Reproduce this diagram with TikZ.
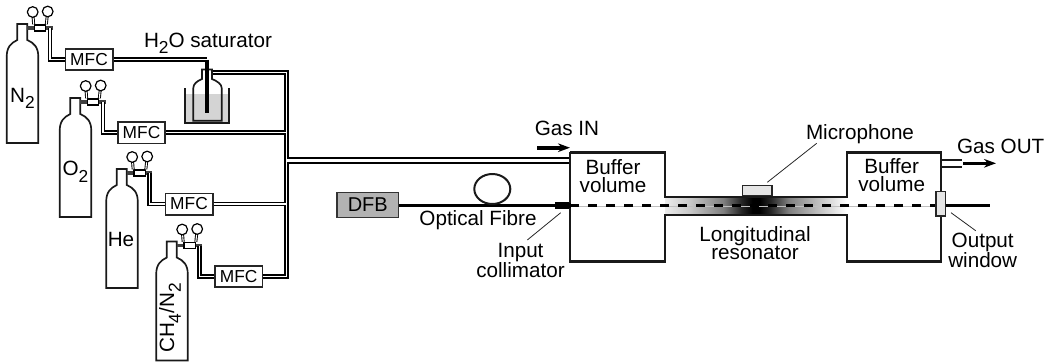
\documentclass[tikz,border=0pt]{standalone}
\usepackage{fontspec}
\setmainfont{Liberation Sans}
\usetikzlibrary{arrows.meta,calc}
\pgfdeclarehorizontalshading{resshade}{100bp}{color(0bp)=(white); color(25bp)=(white!92!black); color(32bp)=(black!22); color(41bp)=(black!50); color(46bp)=(black!85); color(49bp)=(black); color(51bp)=(black); color(54bp)=(black!85); color(59bp)=(black!50); color(68bp)=(black!22); color(75bp)=(white); color(100bp)=(white)}
\newcommand{\subtx}[1]{\raisebox{-.32em}{\fontsize{13}{13}\selectfont #1}}
\tikzset{
  lab/.style={font=\fontsize{15.5}{13.5}\selectfont,inner sep=0pt,anchor=base},
  labm/.style={font=\fontsize{15.5}{13.5}\selectfont,inner sep=0pt,align=center},
  mfcbox/.style={draw=black!85,line width=1.25pt,fill=white,inner sep=0pt,minimum width=35.5pt,minimum height=16pt,font=\fontsize{13}{13}\selectfont},
  thinl/.style={line width=1.25pt,draw=black!90},
  leader/.style={line width=.6pt,draw=black!85},
  pipeo/.style={line width=3.6pt,draw=black,line join=miter},
  pipei/.style={line width=1pt,draw=white,line join=miter},
  mainwall/.style={line width=1.9pt,draw=black!90,line join=miter},
  fibre/.style={line width=2.2pt,draw=black},
  gasarrow/.style={-{Stealth[length=9pt,width=6.5pt]},draw=black}
}
% cylinder with regulator and two gauges
\newcommand{\gascyl}[3]{%
\begin{scope}[shift={(#1,#2)}]
  \draw[thinl,fill=white] (6.7,143) -- (6.7,57) .. controls (6.7,47) and (11,43) .. (17.3,40) -- (17.3,24) -- (27.3,24) -- (27.3,40) .. controls (34,43) and (38.3,47) .. (38.3,57) -- (38.3,143) -- cycle;
  \node[draw=black,line width=1pt,fill=white,inner sep=0pt,minimum width=8.5pt,minimum height=4.5pt] (#3reg) at (40,28) {};
  \coordinate (#3ga) at (32.7,12);
  \coordinate (#3gb) at (47.7,11.5);
  \draw[line width=2.2pt,draw=black] (#3ga) -- (#3reg.north west);
  \draw[line width=.8pt,draw=white] (#3ga) -- (#3reg.north west);
  \draw[line width=2.2pt,draw=black] (#3gb) -- (#3reg.north east);
  \draw[line width=.8pt,draw=white] (#3gb) -- (#3reg.north east);
  \node[draw=black,line width=.9pt,circle,fill=white,inner sep=0pt,minimum size=8pt] (#3gna) at (#3ga) {};
  \node[draw=black,line width=.9pt,circle,fill=white,inner sep=0pt,minimum size=8pt] (#3gnb) at (#3gb) {};
  \draw[line width=2.6pt,draw=black!75] (27.3,28) -- (#3reg.west);
  \draw[line width=2.6pt,draw=black!75] (#3reg.east) -- (52.5,28);
  \coordinate (#3out) at (50,28);
\end{scope}}
\begin{document}
\begin{tikzpicture}[x=.75pt,y=-.75pt]
\useasboundingbox (0,0) rectangle (1045,362);
% gas cylinders
\gascyl{0}{0}{nt}
\gascyl{53}{74}{ox}
\gascyl{99.5}{145}{he}
\gascyl{149.5}{217.5}{ch}
\node[lab] (lnt) at (22.5,102) {N\subtx{2}};
\node[lab] (lox) at (75.5,175.7) {O\subtx{2}};
\node[lab] (lhe) at (121,246) {He};
\node[lab,rotate=90,anchor=center] (lch) at (170,318) {CH\subtx{4}/N\subtx{2}};
% flow controllers
\node[mfcbox] (mfca) at (89,59.5) {MFC};
\node[mfcbox] (mfcb) at (141.5,132.8) {MFC};
\node[mfcbox] (mfcc) at (189,204) {MFC};
\node[mfcbox] (mfcd) at (238.7,276.5) {MFC};
% saturator
\coordinate (satin) at (207,59.5);
\coordinate (satout) at (212,72.3);
\coordinate (mtop) at (286.3,72.3);
\coordinate (mb) at (286.3,132.8);
\coordinate (mmid) at (286.3,160.2);
\coordinate (mc) at (286.3,204);
\coordinate (md) at (286.3,276.5);
\coordinate (inlet) at (570,160.2);
% pipe network
\newcommand{\pipenet}[1]{%
  \draw[#1] (ntout) -- (ntout |- mfca) -- (mfca.west);
  \draw[#1] (oxout) -- (oxout |- mfcb) -- (mfcb.west);
  \draw[#1] (heout) -- (heout |- mfcc) -- (mfcc.west);
  \draw[#1] (chout) -- (chout |- mfcd) -- (mfcd.west);
  \draw[#1] (mfca.east) -- (satin);
  \draw[#1] (satout) -- (mtop) -- (md) -- (mfcd.east);
  \draw[#1] (mfcb.east) -- (mb);
  \draw[#1] (mfcc.east) -- (mc);
}
\pipenet{pipeo}
\draw[line width=5pt,draw=black] (mmid) -- (inlet);
\pipenet{pipei}
\draw[line width=2.4pt,draw=white] (mmid) -- (inlet);
% beaker and bottle
\fill[black!17] (185,94) rectangle (229.3,123.3);
\draw[thinl] (193.3,120.7) -- (193.3,88) .. controls (193.3,84) and (197,81) .. (202,79) -- (202,69.5) -- (212,69.5) -- (212,79) .. controls (217,81) and (221.7,84) .. (221.7,88) -- (221.7,120.7) -- cycle;
\draw[mainwall,line width=1.5pt] (185,88) -- (185,123.3) -- (229.3,123.3) -- (229.3,88);
\draw[line width=3pt,draw=black] (satin) -- (207,113);
% resonator
\shade[shading=resshade] (665,197) rectangle (847,215);
% fibre and beam
\node[draw=black!80,line width=1.2pt,fill=black!30,inner sep=0pt,minimum width=46pt,minimum height=18.5pt,font=\fontsize{15}{15}\selectfont] (dfb) at (367.8,205) {DFB};
\node[draw=black,fill=black,inner sep=0pt,minimum width=11.2pt,minimum height=4.8pt] (coll) at (562.5,205.5) {};
\coordinate (bufin) at (570,205.8);
\coordinate (fend) at (990,205.8);
\node[draw=black!85,line width=1.25pt,fill=black!10,inner sep=0pt,minimum width=7.3pt,minimum height=18.3pt] (win) at (940.7,203.7) {};
\draw[fibre] (dfb.east |- bufin) -- (coll.west |- bufin);
\draw[line width=1.5pt,draw=black!90] (492.3,189) ellipse [x radius=18,y radius=15];
\draw[line width=.4pt,draw=black!25] (bufin) -- (win.west |- bufin);
\draw[line width=2.4pt,draw=black,dash pattern=on 7.1pt off 6.4pt] (bufin) -- (win.west |- bufin);
\draw[fibre] (win.east |- fend) -- (fend);
% vessel
\draw[mainwall] (570,152.3) -- (665,152.3) -- (665,197) -- (847,197) -- (847,152.3) -- (941,152.3) -- (941,191.3);
\draw[mainwall] (941,216) -- (941,261.7) -- (847,261.7) -- (847,215) -- (665,215) -- (665,261.7) -- (570,261.7) -- (570,208);
\draw[mainwall] (570,203) -- (570,152.3);
\node[draw=black!85,line width=1.25pt,fill=black!10,inner sep=0pt,minimum width=7.3pt,minimum height=18.3pt] at (win) {};
\node[draw=black!85,line width=1.25pt,fill=black!10,inner sep=0pt,minimum width=22pt,minimum height=7.6pt] (mic) at (757,190.4) {};
% gas out
\coordinate (ota) at (941.7,160);
\coordinate (otb) at (941.7,166.7);
\coordinate (otc) at (962.3,160);
\coordinate (otd) at (962.3,166.7);
\draw[thinl] (ota) -- (otc);
\draw[thinl] (otb) -- (otd);
\coordinate (oas) at (963.3,163.3);
\coordinate (oae) at (996,163.3);
\draw[gasarrow,line width=2.6pt] (oas) -- (oae);
\coordinate (ias) at (537,147.7);
\coordinate (iae) at (570,147.7);
\draw[gasarrow,line width=2.8pt] (ias) -- (iae);
% labels
\node[lab] (lsat) at (208,47) {H\subtx{2}O saturator};
\node[lab] (lgin) at (567,135) {Gas IN};
\node[lab] (lgout) at (1000.7,153.3) {Gas OUT};
\node[lab] (lmic) at (860,139.3) {Microphone};
\node[lab] (lfib) at (478,225) {Optical Fibre};
\node[labm] (lbufa) at (613,176.5) {Buffer\\volume};
\node[labm] (lbufb) at (891.7,175) {Buffer\\volume};
\node[labm] (lcol) at (520.5,260.5) {Input\\collimator};
\node[labm] (lres) at (755,242.7) {Longitudinal\\resonator};
\node[labm] (lwin) at (982.7,250.5) {Output\\window};
% leaders
\coordinate (lca) at (560.7,212.7);
\coordinate (lcb) at (527.3,240);
\draw[leader] (lca) -- (lcb);
\coordinate (lma) at (816.7,143.3);
\coordinate (lmb) at (767.3,182.3);
\draw[leader] (lma) -- (lmb);
\coordinate (lwa) at (951,212.7);
\coordinate (lwb) at (975.7,230.7);
\draw[leader] (lwa) -- (lwb);
\end{tikzpicture}
\end{document}
